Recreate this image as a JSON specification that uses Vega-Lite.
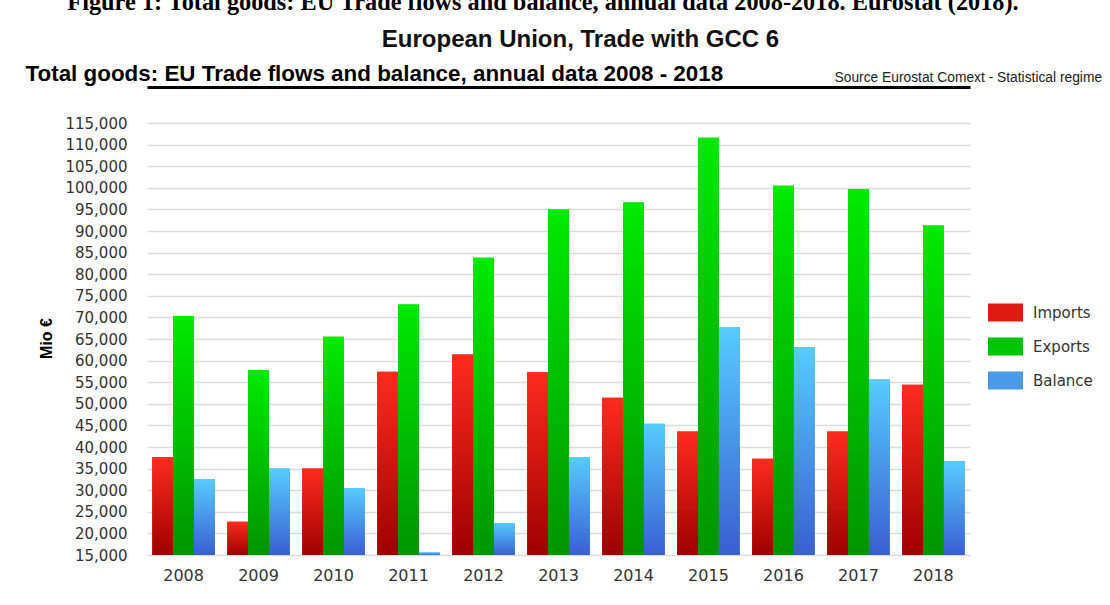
{
  "$schema": "https://vega.github.io/schema/vega-lite/v6.json",
  "width": 823,
  "height": 432,
  "autosize": {"type": "none"},
  "padding": {"left": 147, "top": 123, "right": 140, "bottom": 50},
  "background": "white",
  "config": {"font": "Liberation Sans", "view": {"stroke": null}},
  "title": {"text": "Figure 1: Total goods: EU Trade flows and balance, annual data 2008-2018. Eurostat (2018).", "anchor": "middle", "frame": "group", "font": "Liberation Serif", "fontSize": 24.3, "fontWeight": "bold", "color": "black", "baseline": "alphabetic", "offset": 58, "dx": -15.5, "dy": 65},
  "data": {"values": [
    {"year": "2008", "series": "Imports", "value": 37700},
    {"year": "2008", "series": "Exports", "value": 70300},
    {"year": "2008", "series": "Balance", "value": 32600},
    {"year": "2009", "series": "Imports", "value": 22700},
    {"year": "2009", "series": "Exports", "value": 57800},
    {"year": "2009", "series": "Balance", "value": 35000},
    {"year": "2010", "series": "Imports", "value": 35000},
    {"year": "2010", "series": "Exports", "value": 65500},
    {"year": "2010", "series": "Balance", "value": 30500},
    {"year": "2011", "series": "Imports", "value": 57400},
    {"year": "2011", "series": "Exports", "value": 73000},
    {"year": "2011", "series": "Balance", "value": 15600},
    {"year": "2012", "series": "Imports", "value": 61400},
    {"year": "2012", "series": "Exports", "value": 83800},
    {"year": "2012", "series": "Balance", "value": 22400},
    {"year": "2013", "series": "Imports", "value": 57300},
    {"year": "2013", "series": "Exports", "value": 95000},
    {"year": "2013", "series": "Balance", "value": 37700},
    {"year": "2014", "series": "Imports", "value": 51400},
    {"year": "2014", "series": "Exports", "value": 96600},
    {"year": "2014", "series": "Balance", "value": 45400},
    {"year": "2015", "series": "Imports", "value": 43600},
    {"year": "2015", "series": "Exports", "value": 111600},
    {"year": "2015", "series": "Balance", "value": 67800},
    {"year": "2016", "series": "Imports", "value": 37300},
    {"year": "2016", "series": "Exports", "value": 100500},
    {"year": "2016", "series": "Balance", "value": 63100},
    {"year": "2017", "series": "Imports", "value": 43600},
    {"year": "2017", "series": "Exports", "value": 99700},
    {"year": "2017", "series": "Balance", "value": 55600},
    {"year": "2018", "series": "Imports", "value": 54400},
    {"year": "2018", "series": "Exports", "value": 91300},
    {"year": "2018", "series": "Balance", "value": 36700}
  ]},
  "resolve": {"axis": {"x": "independent", "y": "independent"}},
  "layer": [
    {
      "mark": {"type": "bar"},
      "encoding": {
        "x": {"field": "year", "type": "ordinal", "scale": {"paddingInner": 0.165, "paddingOuter": 0.07},
          "axis": {"orient": "bottom", "labelAngle": 0, "labelFont": "DejaVu Sans", "labelFontSize": 16, "labelColor": "#333", "labelPadding": 12, "ticks": false, "domain": false,
            "title": "European Union, Trade with GCC 6",
            "titleX": 433, "titleY": -509, "titleAlign": "center", "titleAnchor": null, "titleBaseline": "alphabetic", "titleFontSize": 24, "titleFontWeight": "bold", "titleColor": "#111"}},
        "xOffset": {"field": "series", "type": "nominal", "sort": ["Imports", "Exports", "Balance"], "scale": {"paddingInner": 0, "paddingOuter": 0}},
        "y": {"field": "value", "type": "quantitative", "scale": {"domain": [15000, 115000], "nice": false, "zero": false},
          "axis": {"orient": "left", "values": [15000,20000,25000,30000,35000,40000,45000,50000,55000,60000,65000,70000,75000,80000,85000,90000,95000,100000,105000,110000,115000],
            "format": ",d", "labelFont": "DejaVu Sans", "labelFontSize": 15, "labelColor": "#333", "labelPadding": 20, "ticks": false, "domain": false,
            "grid": true, "gridColor": "#dcdcdc", "gridWidth": 1.5,
            "title": "Mio €", "titleFontSize": 16, "titleFontWeight": "bold", "titleColor": "black", "titleX": -101, "titleY": 215, "titleAngle": 270, "titleAlign": "center", "titleBaseline": "middle"}},
        "y2": {"datum": 15000},
        "color": {"field": "series", "type": "nominal",
          "scale": {"domain": ["Imports", "Exports", "Balance"], "range": ["#e01a10", "#00c400", "#4a9ae8"]},
          "legend": {"orient": "none", "legendX": 841, "legendY": 172, "title": null,
            "symbolType": "M-1,-0.514L1,-0.514L1,0.514L-1,0.514Z", "symbolSize": 1225, "symbolStrokeWidth": 0, "symbolOpacity": 1,
            "labelFont": "DejaVu Sans", "labelFontSize": 15, "labelColor": "#333", "labelOffset": 10, "rowPadding": 7}}
      }
    },
    {
      "mark": {"type": "bar"},
      "encoding": {
        "x": {"field": "year", "type": "ordinal",
          "axis": {"orient": "top", "labels": false, "ticks": false, "grid": false, "domain": true, "domainColor": "black", "domainWidth": 3, "offset": 36,
            "title": "Total goods: EU Trade flows and balance, annual data 2008 - 2018",
            "titleX": -122, "titleY": -7, "titleAlign": "left", "titleAnchor": null, "titleBaseline": "alphabetic", "titleFontSize": 22.4, "titleFontWeight": "bold", "titleColor": "black"}},
        "xOffset": {"field": "series", "type": "nominal", "sort": ["Imports", "Exports", "Balance"]},
        "y": {"field": "value", "type": "quantitative",
          "axis": {"orient": "right", "labels": false, "ticks": false, "grid": false, "domain": false,
            "title": "Source Eurostat Comext  -  Statistical regime", "titleAngle": 0, "titleX": -136, "titleY": -42, "titleAlign": "left", "titleBaseline": "alphabetic", "titleFontSize": 13.8, "titleFontWeight": "normal", "titleColor": "#222"}},
        "y2": {"datum": 15000},
        "color": {
          "condition": [
            {"test": "datum.series === 'Imports'", "value": {"gradient": "linear", "x1": 0, "y1": 0, "x2": 0, "y2": 1, "stops": [{"offset": 0, "color": "#ff2b1f"}, {"offset": 1, "color": "#9e0000"}]}},
            {"test": "datum.series === 'Exports'", "value": {"gradient": "linear", "x1": 0, "y1": 0, "x2": 0, "y2": 1, "stops": [{"offset": 0, "color": "#00ea00"}, {"offset": 1, "color": "#009400"}]}}
          ],
          "value": {"gradient": "linear", "x1": 0, "y1": 0, "x2": 0, "y2": 1, "stops": [{"offset": 0, "color": "#56ccff"}, {"offset": 1, "color": "#3a5ed2"}]}
        }
      }
    }
  ]
}
